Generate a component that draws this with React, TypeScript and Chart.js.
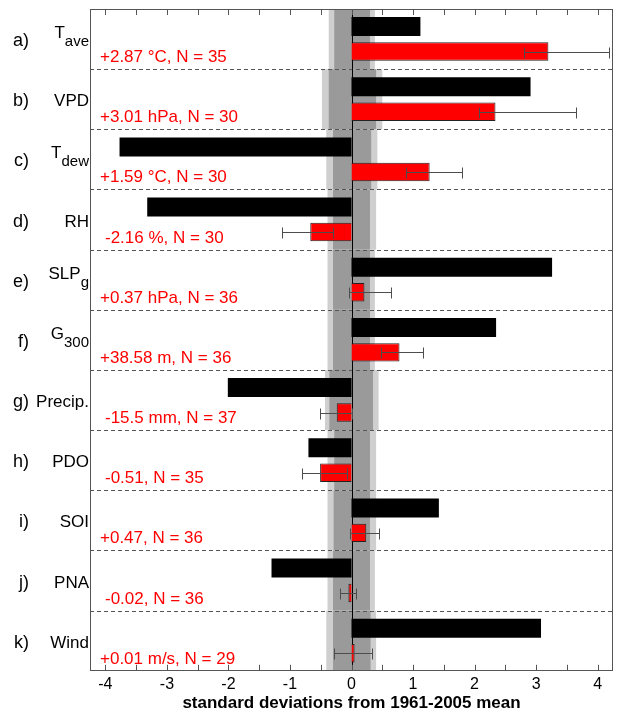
import React, { useEffect, useRef } from 'react';
import { Chart, registerables } from 'chart.js';

Chart.register(...registerables);

// ---- data ----
const categories = ['Tave', 'VPD', 'Tdew', 'RH', 'SLPg', 'G300', 'Precip.', 'PDO', 'SOI', 'PNA', 'Wind'];
const panelLetters = ['a)', 'b)', 'c)', 'd)', 'e)', 'f)', 'g)', 'h)', 'i)', 'j)', 'k)'];
const nameMain = ['T', 'VPD', 'T', 'RH', 'SLP', 'G', 'Precip.', 'PDO', 'SOI', 'PNA', 'Wind'];
const nameSub = ['ave', '', 'dew', '', 'g', '300', '', '', '', '', ''];
const annotations = [
  '+2.87 °C, N = 35',
  '+3.01 hPa, N = 30',
  '+1.59 °C, N = 30',
  '-2.16 %, N = 30',
  '+0.37 hPa, N = 36',
  '+38.58 m, N = 36',
  '-15.5 mm, N = 37',
  '-0.51, N = 35',
  '+0.47, N = 36',
  '-0.02, N = 36',
  '+0.01 m/s, N = 29',
];
const blackValues = [1.12, 2.91, -3.77, -3.32, 3.26, 2.35, -2.01, -0.7, 1.42, -1.3, 3.08];
const redValues = [3.2, 2.34, 1.27, -0.67, 0.21, 0.78, -0.24, -0.51, 0.24, -0.05, 0.05];
const errLow = [2.8, 2.08, 0.89, -1.13, -0.04, 0.48, -0.51, -0.8, -0.03, -0.18, -0.29];
const errHigh = [4.18, 3.65, 1.79, -0.3, 0.65, 1.17, 0.0, -0.07, 0.44, 0.07, 0.33];
const lightLo = [-0.37, -0.48, -0.41, -0.39, -0.39, -0.39, -0.43, -0.39, -0.39, -0.39, -0.41];
const lightHi = [0.38, 0.5, 0.42, 0.4, 0.38, 0.38, 0.44, 0.4, 0.4, 0.38, 0.4];
const darkLo = [-0.28, -0.37, -0.3, -0.3, -0.3, -0.3, -0.36, -0.28, -0.29, -0.3, -0.3];
const darkHi = [0.3, 0.4, 0.32, 0.3, 0.3, 0.3, 0.35, 0.3, 0.3, 0.3, 0.31];
const tickValues = [-4, -3.5, -3, -2.5, -2, -1.5, -1, -0.5, 0, 0.5, 1, 1.5, 2, 2.5, 3, 3.5, 4];
const xMin = -4.25;
const xMax = 4.25;
const xTitle = 'standard deviations from 1961-2005 mean';

const FONT = '"Liberation Sans", Arial, Helvetica, sans-serif';

export default function App() {
  const ref = useRef<HTMLCanvasElement>(null);

  useEffect(() => {
    document.body.style.margin = '0';
    const canvas = ref.current;
    if (!canvas) return;

    const customPlugin = {
      id: 'customDecor',
      beforeDatasetsDraw(chart: any) {
        const { ctx, chartArea: ca } = chart;
        const x = chart.scales.x;
        const y = chart.scales.y;
        ctx.save();
        categories.forEach((_, i) => {
          const top = y.getPixelForValue(i - 0.5);
          const bot = y.getPixelForValue(i + 0.5);
          const l1 = x.getPixelForValue(lightLo[i]);
          const r1 = x.getPixelForValue(lightHi[i]);
          ctx.fillStyle = '#cfcfcf';
          ctx.fillRect(l1, top, r1 - l1, bot - top);
          const l2 = x.getPixelForValue(darkLo[i]);
          const r2 = x.getPixelForValue(darkHi[i]);
          ctx.fillStyle = '#9a9a9a';
          ctx.fillRect(l2, top, r2 - l2, bot - top);
        });
        // dashed separators
        ctx.strokeStyle = '#555';
        ctx.lineWidth = 1;
        ctx.setLineDash([4, 3]);
        for (let i = 1; i < categories.length; i++) {
          const yy = Math.round(y.getPixelForValue(i - 0.5)) + 0.5;
          ctx.beginPath();
          ctx.moveTo(ca.left, yy);
          ctx.lineTo(ca.right, yy);
          ctx.stroke();
        }
        ctx.setLineDash([]);
        // zero line
        const x0 = Math.round(x.getPixelForValue(0)) + 0.5;
        ctx.strokeStyle = '#000';
        ctx.beginPath();
        ctx.moveTo(x0, ca.top);
        ctx.lineTo(x0, ca.bottom);
        ctx.stroke();
        ctx.restore();
      },
      afterDatasetsDraw(chart: any) {
        const { ctx, chartArea: ca } = chart;
        const x = chart.scales.x;
        const y = chart.scales.y;
        ctx.save();
        // error bars on red series
        const meta = chart.getDatasetMeta(1);
        ctx.strokeStyle = '#4d4d4d';
        ctx.lineWidth = 1;
        meta.data.forEach((bar: any, i: number) => {
          const yc = Math.round(bar.y) + 0.5;
          const xl = Math.round(x.getPixelForValue(errLow[i])) + 0.5;
          const xr = Math.round(x.getPixelForValue(errHigh[i])) + 0.5;
          ctx.beginPath();
          ctx.moveTo(xl, yc);
          ctx.lineTo(xr, yc);
          ctx.moveTo(xl, yc - 5);
          ctx.lineTo(xl, yc + 6);
          ctx.moveTo(xr, yc - 5);
          ctx.lineTo(xr, yc + 6);
          ctx.stroke();
        });
        // frame
        ctx.strokeStyle = '#555';
        ctx.strokeRect(Math.round(ca.left) + 0.5, Math.round(ca.top) + 0.5, Math.round(ca.right - ca.left) - 1, Math.round(ca.bottom - ca.top) - 1);
        // inward ticks
        x.ticks.forEach((t: any) => {
          const px = Math.round(x.getPixelForValue(t.value)) + 0.5;
          ctx.beginPath();
          ctx.moveTo(px, ca.top);
          ctx.lineTo(px, ca.top + 6);
          ctx.moveTo(px, ca.bottom);
          ctx.lineTo(px, ca.bottom - 6);
          ctx.stroke();
        });
        // left labels
        ctx.fillStyle = '#000';
        ctx.textBaseline = 'alphabetic';
        categories.forEach((_, i) => {
          const yc = y.getPixelForValue(i);
          ctx.font = `18px ${FONT}`;
          ctx.textAlign = 'right';
          ctx.fillText(panelLetters[i], 29, yc + 7);
          const rightX = 89;
          if (nameSub[i]) {
            ctx.font = `15px ${FONT}`;
            const sw = ctx.measureText(nameSub[i]).width;
            ctx.fillText(nameSub[i], rightX, yc + 7);
            ctx.font = `17px ${FONT}`;
            ctx.fillText(nameMain[i], rightX - sw, yc - 1);
          } else {
            ctx.font = `17px ${FONT}`;
            ctx.fillText(nameMain[i], rightX, yc + 7);
          }
        });
        // red annotations
        ctx.fillStyle = '#ff0000';
        ctx.textAlign = 'left';
        ctx.font = `17px ${FONT}`;
        annotations.forEach((s, i) => {
          const yc = y.getPixelForValue(i);
          const xs = s.startsWith('-') ? 105 : 100;
          ctx.fillText(s, xs, yc + 23);
        });
        ctx.restore();
      },
    };

    const chart = new Chart(canvas, {
      type: 'bar',
      data: {
        labels: categories,
        datasets: [
          {
            label: 'black',
            data: blackValues,
            backgroundColor: '#000000',
            borderWidth: 0,
            categoryPercentage: 0.83,
            barPercentage: 0.76,
          },
          {
            label: 'red',
            data: redValues,
            backgroundColor: '#ff0000',
            borderColor: '#222222',
            borderWidth: 1,
            categoryPercentage: 0.83,
            barPercentage: 0.74,
          },
        ],
      },
      options: {
        indexAxis: 'y',
        animation: false,
        responsive: true,
        maintainAspectRatio: false,
        layout: { padding: { left: 90, right: 4, top: 9, bottom: 1 } },
        plugins: { legend: { display: false }, tooltip: { enabled: false } },
        scales: {
          y: { display: false },
          x: {
            type: 'linear',
            min: xMin,
            max: xMax,
            afterBuildTicks: (scale: any) => {
              scale.ticks = tickValues.map((v) => ({ value: v }));
            },
            grid: { display: false, drawTicks: false },
            border: { display: false },
            ticks: {
              autoSkip: false,
              maxRotation: 0,
              padding: 4,
              color: '#000',
              font: { size: 16, family: FONT },
              callback: (v: any) => (Number.isInteger(Number(v)) ? String(v) : ''),
            },
            title: {
              display: true,
              text: xTitle,
              color: '#000',
              font: { size: 17, weight: 'bold', family: FONT, lineHeight: 1 },
              padding: { top: -3, bottom: 0 },
            },
          },
        },
      },
      plugins: [customPlugin],
    });

    return () => chart.destroy();
  }, []);

  return (
    <div style={{ width: 617, height: 713, position: 'relative' }}>
      <canvas ref={ref} />
    </div>
  );
}
